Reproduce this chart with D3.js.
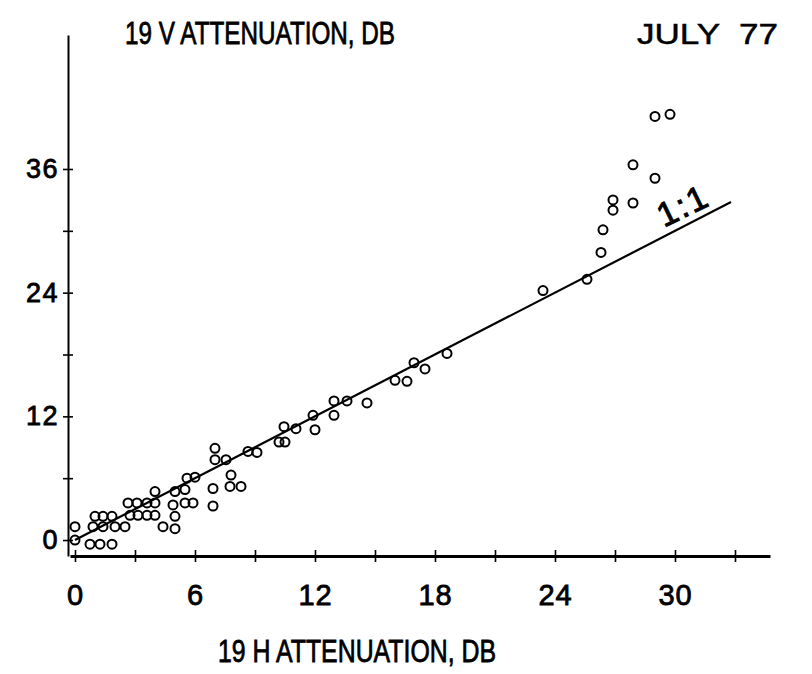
<!DOCTYPE html>
<html>
<head>
<meta charset="utf-8">
<script src="https://cdn.jsdelivr.net/npm/d3@7"></script>
<style>
  body { margin: 0; background: #fff; }
</style>
</head>
<body>
<script>
// 19 GHz horizontal vs vertical attenuation, July 77
var hAtten = [0, 0, 0.75, 1.25, 1.85, 0.9, 1.4, 2.0, 2.5, 1.0, 1.4, 1.85,
  2.75, 3.15, 3.6, 4.0, 2.65, 3.1, 3.6, 4.0, 4.0, 4.4, 5.0, 5.0, 4.9, 5.5,
  5.9, 5.0, 5.5, 5.6, 6.0, 6.9, 6.9, 7.0, 7.0, 7.55, 7.8, 7.75, 8.3, 8.65,
  9.1, 10.2, 10.5, 10.45, 11.05, 12.0, 11.9, 12.95, 12.95, 13.6, 14.6, 16.0,
  16.6, 16.95, 17.5, 18.6, 23.4, 25.6, 26.3, 26.4, 26.9, 26.9, 27.9, 27.9,
  29.0, 29.0, 29.75];
var vAtten = [1.3, 0, -0.4, -0.4, -0.4, 1.3, 1.3, 1.3, 1.3, 2.3, 2.3, 2.3,
  2.4, 2.4, 2.4, 2.4, 3.6, 3.6, 3.6, 3.6, 4.7, 1.3, 1.1, 2.3, 3.4, 3.6,
  3.6, 4.7, 4.9, 6.0, 6.1, 5.0, 3.3, 8.9, 7.8, 7.8, 6.3, 5.2, 5.2, 8.6,
  8.5, 9.5, 9.5, 11.0, 10.8, 10.7, 12.1, 12.1, 13.5, 13.5, 13.3, 15.5,
  15.4, 17.2, 16.6, 18.1, 24.2, 25.3, 27.9, 30.1, 32.0, 33.0, 32.7, 36.4,
  35.1, 41.1, 41.3];

var oneToOne = [0, 32.8];
var xTickVals = d3.range(0, 34, 3);
var yTickVals = [0, 6, 12, 18, 24, 30, 36];

var width = 812, height = 674;
var font = "'Liberation Sans', Arial, sans-serif";

var svg = d3.select("body").append("svg")
  .attr("width", width)
  .attr("height", height)
  .style("font-family", font);

var x = d3.scaleLinear().domain([-0.25, 34.75]).range([70, 770]);
var y = d3.scaleLinear().domain([-1.55, 49]).range([556, 35]);

// x axis
var xAxis = svg.append("g")
  .attr("transform", "translate(0," + y(-1.55) + ")")
  .call(d3.axisBottom(x).tickValues(xTickVals).tickSize(0).tickSizeOuter(0)
    .tickPadding(28)
    .tickFormat(function(d) { return d % 6 === 0 ? d : ""; }));
xAxis.select(".domain").attr("stroke", "#000").attr("stroke-width", 3);
xAxis.selectAll(".tick line").attr("y1", -6).attr("y2", 6)
  .attr("stroke", "#000").attr("stroke-width", 1.6);
xAxis.selectAll(".tick text")
  .attr("font-size", 29).attr("font-family", font)
  .attr("fill", "#000").attr("stroke", "#000").attr("stroke-width", 0.8)
  .attr("letter-spacing", 1);

// y axis
var yAxis = svg.append("g")
  .attr("transform", "translate(68,0)")
  .call(d3.axisLeft(y).tickValues(yTickVals).tickSize(0).tickSizeOuter(0)
    .tickPadding(9)
    .tickFormat(function(d) { return d % 12 === 0 ? d : ""; }));
yAxis.select(".domain").attr("stroke", "#000").attr("stroke-width", 2);
yAxis.selectAll(".tick line").attr("x1", -5).attr("x2", 5)
  .attr("stroke", "#000").attr("stroke-width", 1.6);
yAxis.selectAll(".tick text")
  .attr("font-size", 27).attr("font-family", font)
  .attr("fill", "#000").attr("stroke", "#000").attr("stroke-width", 0.8)
  .attr("letter-spacing", 1.5);

// 1:1 line
var line = d3.line()
  .x(function(d) { return x(d); })
  .y(function(d) { return y(d); });
svg.append("path")
  .datum(oneToOne)
  .attr("d", line)
  .attr("fill", "none")
  .attr("stroke", "#000")
  .attr("stroke-width", 2.2);

svg.append("text")
  .attr("transform", "translate(688,216) rotate(-26)")
  .attr("text-anchor", "middle")
  .attr("font-size", 34)
  .attr("stroke", "#000").attr("stroke-width", 1)
  .attr("letter-spacing", 2)
  .text("1:1");

// points
svg.append("g").selectAll("circle")
  .data(hAtten)
  .join("circle")
  .attr("cx", function(d) { return x(d); })
  .attr("cy", function(d, i) { return y(vAtten[i]); })
  .attr("r", 4.5)
  .attr("fill", "none")
  .attr("stroke", "#000")
  .attr("stroke-width", 2);

// titles
svg.append("text")
  .attr("x", 125).attr("y", 44)
  .attr("font-size", 32)
  .attr("textLength", 270).attr("lengthAdjust", "spacingAndGlyphs")
  .attr("stroke", "#000").attr("stroke-width", 0.8)
  .text("19 V ATTENUATION, DB");

svg.append("text")
  .attr("x", 637).attr("y", 44)
  .attr("font-size", 30)
  .attr("textLength", 141).attr("lengthAdjust", "spacingAndGlyphs")
  .attr("stroke", "#000").attr("stroke-width", 0.5)
  .attr("xml:space", "preserve")
  .text("JULY  77");

svg.append("text")
  .attr("x", 218).attr("y", 662)
  .attr("font-size", 32)
  .attr("textLength", 278).attr("lengthAdjust", "spacingAndGlyphs")
  .attr("stroke", "#000").attr("stroke-width", 0.8)
  .text("19 H ATTENUATION, DB");
</script>
</body>
</html>
